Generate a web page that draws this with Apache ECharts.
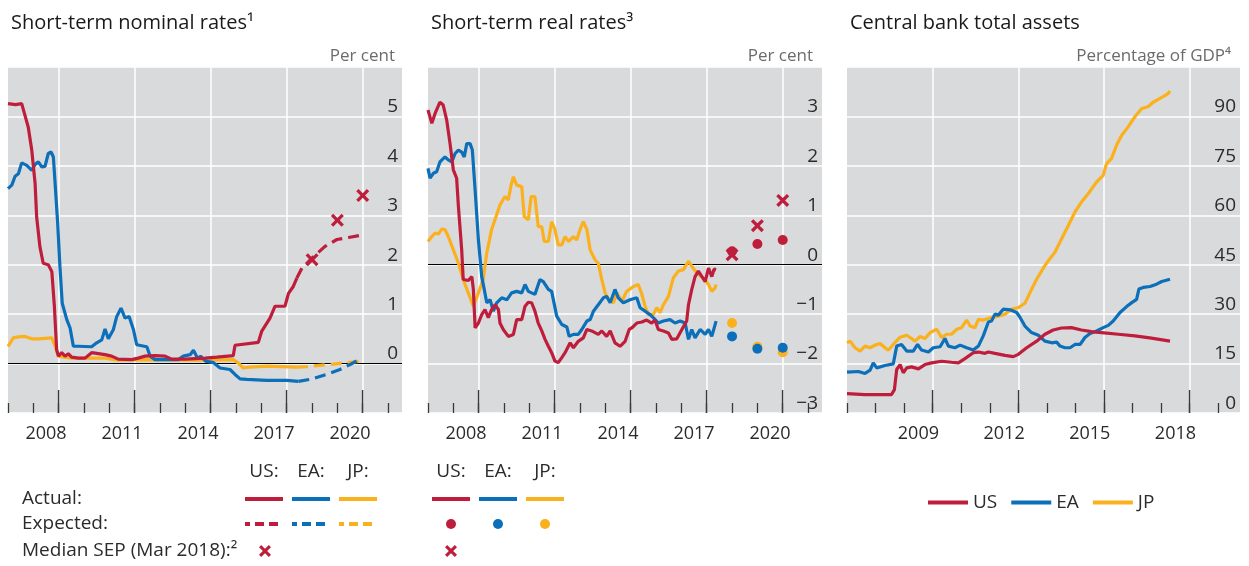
<!DOCTYPE html>
<html>
<head>
<meta charset="utf-8">
<script src="https://cdn.jsdelivr.net/npm/echarts@6/dist/echarts.min.js"></script>
<style>
  html, body { margin: 0; padding: 0; background: #fff; }
  #chart { width: 1249px; height: 566px; }
</style>
</head>
<body>
<div id="chart"></div>
<script>
var RED = '#be1e3c', BLUE = '#0b6fba', YELLOW = '#fbb01d';
var BG = '#d9dadc', TXT = '#2b2b2b';
var FONT = '"Open Sans", "Noto Sans", sans-serif';

// ---- Short-term nominal rates, per cent : [year, value]
var nomUS = [[2007.0,5.26],[2007.3,5.24],[2007.54,5.26],[2007.67,5.02],[2007.8,4.78],[2007.94,4.31],[2008.07,3.64],[2008.13,2.97],[2008.26,2.36],[2008.39,2.03],[2008.59,2.0],[2008.73,1.86],[2008.83,1.16],[2008.92,0.28],[2008.99,0.15],[2009.12,0.22],[2009.25,0.15],[2009.38,0.2],[2009.51,0.13],[2009.78,0.11],[2010.04,0.11],[2010.3,0.22],[2010.83,0.18],[2011.09,0.15],[2011.35,0.09],[2011.88,0.08],[2012.14,0.11],[2012.41,0.15],[2012.8,0.16],[2013.2,0.15],[2013.46,0.09],[2013.99,0.09],[2014.78,0.11],[2015.24,0.13],[2015.89,0.16],[2015.96,0.37],[2016.88,0.43],[2017.01,0.65],[2017.34,0.92],[2017.54,1.16],[2017.93,1.16],[2018.07,1.42],[2018.26,1.56],[2018.4,1.73]];
var nomUSExp = [[2018.4,1.73],[2018.6,1.93],[2018.99,2.13],[2019.51,2.37],[2019.98,2.51],[2020.44,2.55],[2020.96,2.6]];
var nomUSSep = [[2019,2.1],[2020,2.9],[2021,3.4]];
var nomEA = [[2007.0,3.54],[2007.15,3.61],[2007.28,3.79],[2007.41,3.84],[2007.54,4.06],[2007.74,4.01],[2007.94,3.91],[2008.07,4.03],[2008.2,4.08],[2008.33,3.98],[2008.46,3.99],[2008.59,4.25],[2008.7,4.28],[2008.79,4.18],[2008.86,3.64],[2008.96,2.84],[2009.05,1.96],[2009.14,1.22],[2009.32,0.89],[2009.45,0.72],[2009.58,0.35],[2009.78,0.35],[2010.3,0.34],[2010.5,0.42],[2010.7,0.48],[2010.83,0.7],[2010.96,0.5],[2011.16,0.69],[2011.29,0.95],[2011.46,1.12],[2011.62,0.92],[2011.78,0.95],[2011.95,0.69],[2012.08,0.38],[2012.48,0.34],[2012.61,0.15],[2012.8,0.08],[2013.72,0.08],[2013.92,0.15],[2014.19,0.18],[2014.32,0.27],[2014.49,0.1],[2014.6,0.15],[2014.8,0.05],[2015.1,0.02],[2015.37,-0.09],[2015.76,-0.12],[2015.96,-0.22],[2016.16,-0.31],[2016.42,-0.32],[2017.21,-0.34],[2018.0,-0.34],[2018.46,-0.36]];
var nomEAExp = [[2018.46,-0.36],[2018.92,-0.32],[2019.58,-0.22],[2020.1,-0.12],[2020.5,-0.02],[2020.96,0.11]];
var nomJP = [[2007.0,0.35],[2007.21,0.52],[2007.41,0.54],[2007.67,0.55],[2007.94,0.5],[2008.2,0.5],[2008.73,0.52],[2008.86,0.35],[2008.99,0.15],[2009.51,0.11],[2010.83,0.11],[2011.35,0.07],[2012.14,0.08],[2014.58,0.07],[2015.89,0.08],[2016.09,0.01],[2016.29,-0.09],[2016.55,-0.07],[2017.21,-0.05],[2018.4,-0.07]];
var nomJPExp = [[2018.4,-0.07],[2018.79,-0.06],[2019.84,-0.01],[2020.96,0.05]];

// ---- Short-term real rates, per cent
var realUS = [[2007.0,3.13],[2007.15,2.86],[2007.28,3.06],[2007.47,3.29],[2007.6,3.23],[2007.74,2.92],[2007.87,2.45],[2008.0,1.92],[2008.13,1.75],[2008.2,1.18],[2008.33,0.3],[2008.39,-0.3],[2008.59,-0.32],[2008.73,-0.24],[2008.79,-0.5],[2008.86,-1.28],[2008.99,-1.18],[2009.12,-1.01],[2009.25,-0.91],[2009.38,-1.07],[2009.51,-0.91],[2009.65,-0.81],[2009.78,-0.91],[2009.84,-1.18],[2009.97,-1.31],[2010.17,-1.45],[2010.37,-1.41],[2010.5,-1.11],[2010.7,-1.11],[2010.83,-0.84],[2010.96,-0.76],[2011.09,-0.77],[2011.22,-0.94],[2011.35,-1.18],[2011.49,-1.34],[2011.62,-1.51],[2011.75,-1.65],[2011.88,-1.78],[2012.01,-1.95],[2012.14,-1.98],[2012.28,-1.88],[2012.41,-1.78],[2012.61,-1.58],[2012.74,-1.68],[2012.93,-1.55],[2013.13,-1.48],[2013.27,-1.31],[2013.46,-1.34],[2013.72,-1.41],[2013.86,-1.34],[2014.05,-1.45],[2014.19,-1.34],[2014.38,-1.58],[2014.58,-1.65],[2014.78,-1.55],[2014.94,-1.31],[2015.04,-1.28],[2015.24,-1.18],[2015.44,-1.16],[2015.63,-1.12],[2015.83,-1.18],[2015.96,-1.12],[2016.09,-1.31],[2016.29,-1.34],[2016.49,-1.38],[2016.62,-1.51],[2016.82,-1.5],[2017.02,-1.31],[2017.21,-1.14],[2017.28,-0.81],[2017.41,-0.5],[2017.54,-0.24],[2017.67,-0.13],[2017.81,-0.24],[2017.94,-0.34],[2018.07,-0.07],[2018.2,-0.24],[2018.29,-0.09],[2018.37,-0.1]];
var realEA = [[2007.0,1.95],[2007.08,1.75],[2007.21,1.85],[2007.34,1.88],[2007.47,2.08],[2007.67,2.18],[2007.8,2.12],[2007.94,2.08],[2008.07,2.25],[2008.2,2.32],[2008.33,2.28],[2008.43,2.18],[2008.53,2.45],[2008.66,2.45],[2008.75,2.32],[2008.86,1.51],[2008.99,0.5],[2009.12,-0.24],[2009.22,-0.5],[2009.32,-0.77],[2009.45,-0.71],[2009.58,-0.94],[2009.71,-0.77],[2009.91,-0.67],[2010.11,-0.71],[2010.3,-0.57],[2010.5,-0.54],[2010.7,-0.57],[2010.83,-0.4],[2010.96,-0.54],[2011.22,-0.6],[2011.42,-0.3],[2011.55,-0.34],[2011.75,-0.5],[2011.88,-0.54],[2012.08,-1.04],[2012.28,-1.21],[2012.48,-1.26],[2012.57,-1.45],[2012.74,-1.41],[2012.93,-1.41],[2013.07,-1.31],[2013.27,-1.14],[2013.4,-1.11],[2013.53,-0.94],[2013.72,-0.81],[2013.92,-0.67],[2014.05,-0.64],[2014.19,-0.77],[2014.38,-0.5],[2014.51,-0.67],[2014.71,-0.77],[2014.97,-0.71],[2015.24,-0.67],[2015.37,-0.87],[2015.57,-0.94],[2015.76,-1.01],[2015.89,-1.07],[2016.09,-1.18],[2016.29,-1.14],[2016.55,-1.11],[2016.75,-1.18],[2016.95,-1.14],[2017.15,-1.18],[2017.28,-1.51],[2017.41,-1.31],[2017.54,-1.48],[2017.74,-1.31],[2017.94,-1.41],[2018.07,-1.31],[2018.2,-1.45],[2018.37,-1.14]];
var realJP = [[2007.0,0.47],[2007.15,0.57],[2007.28,0.64],[2007.41,0.62],[2007.54,0.72],[2007.67,0.71],[2007.8,0.57],[2008.0,0.3],[2008.2,0.03],[2008.39,-0.3],[2008.59,-0.57],[2008.79,-0.84],[2008.99,-0.57],[2009.18,-0.3],[2009.32,0.24],[2009.51,0.71],[2009.71,1.01],[2009.84,1.21],[2010.04,1.38],[2010.17,1.31],[2010.28,1.61],[2010.37,1.78],[2010.5,1.61],[2010.7,1.58],[2010.8,0.97],[2010.96,0.91],[2011.07,1.38],[2011.22,1.38],[2011.35,0.77],[2011.49,0.77],[2011.59,0.47],[2011.75,0.47],[2011.88,0.87],[2012.01,0.71],[2012.14,0.4],[2012.28,0.4],[2012.41,0.57],[2012.54,0.47],[2012.74,0.57],[2012.87,0.5],[2013.0,0.71],[2013.13,0.87],[2013.27,0.71],[2013.4,0.3],[2013.59,0.1],[2013.72,0.03],[2013.86,-0.3],[2013.99,-0.57],[2014.12,-0.71],[2014.32,-0.77],[2014.45,-0.57],[2014.65,-0.74],[2014.84,-0.54],[2014.91,-0.5],[2015.11,-0.44],[2015.3,-0.4],[2015.44,-0.6],[2015.57,-0.84],[2015.7,-1.01],[2015.89,-1.01],[2016.03,-0.87],[2016.16,-0.97],[2016.29,-0.81],[2016.49,-0.64],[2016.68,-0.27],[2016.88,-0.13],[2017.08,-0.1],[2017.28,0.07],[2017.41,-0.03],[2017.61,-0.17],[2017.87,-0.27],[2018.07,-0.4],[2018.2,-0.54],[2018.33,-0.47],[2018.37,-0.4]];
var realUSExp = [[2019,0.27],[2020,0.42],[2021,0.5]];
var realEAExp = [[2019,-1.45],[2020,-1.7],[2021,-1.68]];
var realJPExp = [[2019,-1.18],[2020,-1.66],[2021,-1.77]];
var realUSSep = [[2019,0.2],[2020,0.79],[2021,1.3]];

// ---- Central bank total assets, percentage of GDP
var assetsUS = [[2007.0,5.9],[2007.63,5.6],[2008.56,5.6],[2008.66,7.1],[2008.74,13.2],[2008.86,14.7],[2008.97,12.2],[2009.09,13.7],[2009.26,14.0],[2009.5,13.4],[2009.73,14.7],[2009.96,15.2],[2010.31,15.7],[2010.66,15.4],[2010.9,15.2],[2011.13,16.5],[2011.42,18.3],[2011.6,18.5],[2011.83,18.1],[2011.95,18.5],[2012.18,18.1],[2012.53,17.5],[2012.82,17.1],[2013.0,17.8],[2013.29,19.8],[2013.64,21.8],[2013.93,23.9],[2014.22,25.2],[2014.51,25.8],[2014.86,25.9],[2015.21,25.2],[2015.56,24.7],[2015.91,24.4],[2016.5,23.9],[2017.08,23.4],[2017.66,22.7],[2018.31,21.8]];
var assetsEA = [[2007.0,12.4],[2007.4,12.6],[2007.63,12.0],[2007.81,13.0],[2007.92,15.2],[2008.04,13.7],[2008.33,14.4],[2008.62,14.9],[2008.74,20.3],[2008.91,20.8],[2009.09,18.8],[2009.32,18.8],[2009.47,20.8],[2009.61,19.1],[2009.85,18.5],[2010.02,19.8],[2010.26,20.1],[2010.43,22.6],[2010.55,20.3],[2010.78,19.8],[2010.96,20.6],[2011.19,19.8],[2011.42,19.1],[2011.6,20.3],[2011.77,23.4],[2011.95,27.6],[2012.06,27.9],[2012.18,30.0],[2012.3,29.7],[2012.47,31.5],[2012.71,31.3],[2012.94,30.5],[2013.06,29.0],[2013.23,26.4],[2013.46,24.4],[2013.7,23.6],[2013.93,21.8],[2014.17,21.3],[2014.34,21.5],[2014.46,20.3],[2014.63,19.8],[2014.81,19.8],[2014.98,20.8],[2015.16,20.8],[2015.33,22.9],[2015.51,24.1],[2015.74,24.9],[2015.97,25.9],[2016.15,26.6],[2016.32,27.9],[2016.56,30.5],[2016.79,32.3],[2016.97,33.5],[2017.14,34.5],[2017.22,37.6],[2017.37,38.1],[2017.61,38.4],[2017.84,39.1],[2018.02,39.9],[2018.31,40.6]];
var assetsJP = [[2007.0,21.3],[2007.11,21.8],[2007.28,19.8],[2007.46,18.8],[2007.63,20.3],[2007.81,19.8],[2007.98,20.6],[2008.16,21.1],[2008.33,19.8],[2008.45,19.1],[2008.62,20.8],[2008.86,23.0],[2009.09,23.6],[2009.26,22.6],[2009.38,21.8],[2009.56,23.2],[2009.73,22.6],[2009.91,24.4],[2010.14,25.4],[2010.31,22.9],[2010.49,23.9],[2010.66,23.9],[2010.84,25.4],[2011.01,25.9],[2011.19,28.2],[2011.31,26.4],[2011.48,25.9],[2011.6,28.4],[2011.77,28.2],[2011.95,28.7],[2012.12,29.0],[2012.36,29.5],[2012.53,30.0],[2012.76,31.5],[2013.0,32.0],[2013.23,33.3],[2013.41,36.6],[2013.64,40.6],[2013.91,44.5],[2014.05,46.2],[2014.28,48.8],[2014.51,52.8],[2014.75,56.9],[2014.98,61.0],[2015.21,64.0],[2015.45,66.6],[2015.74,70.1],[2015.97,72.1],[2016.09,75.7],[2016.26,77.2],[2016.44,81.3],[2016.62,84.3],[2016.85,86.9],[2017.08,89.9],[2017.31,92.3],[2017.55,93.0],[2017.72,94.3],[2017.96,95.5],[2018.13,96.3],[2018.25,97.0],[2018.31,97.7]];

// ---- axis ticks and labels
var yearsRates = [2007,2008,2009,2010,2011,2012,2013,2014,2015,2016,2017,2018,2019,2020,2021,2022];
var majorsRates = [2009,2012,2015,2018,2021];
var labelsRates = [2008.5,2011.5,2014.5,2017.5,2020.5];
var yearsAssets = [2007,2008,2009,2010,2011,2012,2013,2014,2015,2016,2017,2018,2019,2020];
var majorsAssets = [2010,2013,2016,2019];
var labelsAssets = [2009.5,2012.5,2015.5,2018.5];

var XSHAPE = 'path://M1.8,0L5,3.2L8.2,0L10,1.8L6.8,5L10,8.2L8.2,10L5,6.8L1.8,10L0,8.2L3.2,5L0,1.8Z';
var XPOINTS = [[1.8,0],[5,3.2],[8.2,0],[10,1.8],[6.8,5],[10,8.2],[8.2,10],[5,6.8],[1.8,10],[0,8.2],[3.2,5],[0,1.8]];

var TOP = 67, BOTTOM = 413, STRIP = 23;
var panels = [
  {left: 8, width: 394, xMax: 2022.55, years: yearsRates, majors: majorsRates, labels: labelsRates, yMin: -1, yMax: 6, yStep: 1, hide: [-1, 6]},
  {left: 428, width: 394, xMax: 2022.55, years: yearsRates, majors: majorsRates, labels: labelsRates, yMin: -3, yMax: 4, yStep: 1, hide: [4]},
  {left: 847, width: 393, xMax: 2020.76, years: yearsAssets, majors: majorsAssets, labels: labelsAssets, yMin: 0, yMax: 105, yStep: 15, hide: [105]}
];

var grids = [], xAxes = [], yAxes = [], series = [], graphics = [];

panels.forEach(function(p, i){
  grids.push({left: p.left, width: p.width, top: TOP, height: BOTTOM - TOP, show: true, backgroundColor: BG, borderWidth: 0});
  // white vertical grid lines every 3 years
  xAxes.push({gridIndex: i, type: 'value', min: 2007, max: p.xMax, position: 'bottom', z: 0,
    axisLine: {show: false}, axisLabel: {show: false},
    axisTick: {show: false, customValues: p.majors},
    splitLine: {show: true, lineStyle: {color: '#fff', width: 1.5}}});
  // long ticks
  xAxes.push({gridIndex: i, type: 'value', min: 2007, max: p.xMax, position: 'bottom', z: 3,
    axisLine: {show: false, onZero: false}, axisLabel: {show: false}, splitLine: {show: false},
    axisTick: {show: true, inside: true, length: STRIP, customValues: p.majors, lineStyle: {color: '#3a3a3a', width: 1.3}}});
  // short yearly ticks + labels centred in the year
  xAxes.push({gridIndex: i, type: 'value', min: 2007, max: p.xMax, position: 'bottom', z: 3,
    axisLine: {show: false, onZero: false}, splitLine: {show: false},
    axisTick: {show: true, inside: true, length: 10, customValues: p.years, lineStyle: {color: '#3a3a3a', width: 1.3}},
    axisLabel: {show: true, customValues: p.labels, margin: 12, fontSize: 18, color: TXT, fontFamily: FONT,
      formatter: function(v){ return String(Math.floor(v)); }}});
  yAxes.push({gridIndex: i, type: 'value', min: p.yMin, max: p.yMax, interval: p.yStep, position: 'right', z: 3,
    axisLine: {show: false}, axisTick: {show: false},
    splitLine: {show: true, lineStyle: {color: '#fff', width: 1.5}},
    axisLabel: {inside: true, margin: 4, verticalAlign: 'bottom', fontSize: 19, color: TXT, fontFamily: FONT,
      formatter: function(v){ return p.hide.indexOf(v) >= 0 ? '' : String(v).replace('-', '\u2212'); }}});
  // grey band at the bottom that hides the grid lines behind the ticks
  graphics.push({type: 'rect', z: 1, silent: true,
    shape: {x: p.left, y: BOTTOM - STRIP, width: p.width, height: STRIP}, style: {fill: BG}});
});

function line(name, panel, data, color, dashed) {
  return {name: name, type: 'line', xAxisIndex: panel * 3, yAxisIndex: panel, data: data, z: 5,
    color: color, showSymbol: false, symbol: 'none', silent: true,
    lineStyle: {width: 3.2, color: color, type: dashed ? [11, 6] : 'solid'}};
}
function marks(name, panel, data, color, symbol, size) {
  return {name: name, type: 'scatter', xAxisIndex: panel * 3, yAxisIndex: panel, data: data, z: 6,
    symbol: symbol, symbolSize: size, itemStyle: {color: color, opacity: 1}, silent: true};
}
var zeroLine = {silent: true, symbol: ['none', 'none'], label: {show: false},
  lineStyle: {color: '#000', width: 1, type: 'solid'}, data: [{yAxis: 0}]};

var s;
s = line('JP nominal', 0, nomJP, YELLOW); s.markLine = zeroLine; series.push(s);
series.push(line('JP nominal exp', 0, nomJPExp, YELLOW, true));
series.push(line('EA nominal', 0, nomEA, BLUE));
series.push(line('EA nominal exp', 0, nomEAExp, BLUE, true));
series.push(line('US nominal', 0, nomUS, RED));
series.push(line('US nominal exp', 0, nomUSExp, RED, true));
series.push(marks('US SEP nominal', 0, nomUSSep, RED, XSHAPE, 13));

s = line('JP real', 1, realJP, YELLOW); s.markLine = zeroLine; series.push(s);
series.push(line('EA real', 1, realEA, BLUE));
series.push(line('US real', 1, realUS, RED));
series.push(marks('JP real exp', 1, realJPExp, YELLOW, 'circle', 10));
series.push(marks('EA real exp', 1, realEAExp, BLUE, 'circle', 10));
series.push(marks('US real exp', 1, realUSExp, RED, 'circle', 10));
series.push(marks('US SEP real', 1, realUSSep, RED, XSHAPE, 13));

series.push(line('JP', 2, assetsJP, YELLOW));
series.push(line('EA', 2, assetsEA, BLUE));
series.push(line('US', 2, assetsUS, RED));

// ---- key below the two rate panels
var ROW = {head: 472, actual: 499, expected: 524, sep: 551};
var keyCols = [[245, 292, 339], [432, 479, 526]];
var keyColors = [RED, BLUE, YELLOW];
function txt(t, x, y, align) {
  return {type: 'text', x: x, y: y, z: 10, silent: true,
    style: {text: t, fill: TXT, font: '19px ' + FONT, align: align || 'left', verticalAlign: 'middle'}};
}
graphics.push(txt('Actual:', 22, ROW.actual));
graphics.push(txt('Expected:', 22, ROW.expected));
graphics.push(txt('Median SEP (Mar 2018):\u00b2', 22, ROW.sep));
keyCols.forEach(function(cols, k){
  ['US:', 'EA:', 'JP:'].forEach(function(lbl, j){
    var x = cols[j];
    graphics.push(txt(lbl, x + 19, ROW.head, 'center'));
    graphics.push({type: 'line', z: 10, silent: true, shape: {x1: x, y1: ROW.actual, x2: x + 38, y2: ROW.actual},
      style: {stroke: keyColors[j], lineWidth: 4}});
    if (k === 0) {
      graphics.push({type: 'line', z: 10, silent: true, shape: {x1: x, y1: ROW.expected, x2: x + 38, y2: ROW.expected},
        style: {stroke: keyColors[j], lineWidth: 4, lineDash: [9, 5], lineDashOffset: 4}});
    } else {
      graphics.push({type: 'circle', z: 10, silent: true, shape: {cx: x + 19, cy: ROW.expected, r: 5},
        style: {fill: keyColors[j]}});
    }
  });
});
[[259, ROW.sep], [445, ROW.sep]].forEach(function(c){
  graphics.push({type: 'polygon', z: 10, silent: true,
    shape: {points: XPOINTS.map(function(pt){ return [c[0] + pt[0] * 1.2, c[1] - 6 + pt[1] * 1.2]; })},
    style: {fill: RED}});
});

var titleStyle = {fontSize: 20, fontWeight: 'normal', color: '#1a1a1a', fontFamily: FONT};
var unitStyle = {fontSize: 17, fontWeight: 'normal', color: '#6b6b6b', fontFamily: FONT};

var chart = echarts.init(document.getElementById('chart'));
chart.setOption({
  animation: false,
  backgroundColor: '#fff',
  textStyle: {fontFamily: FONT},
  title: [
    {text: 'Short-term nominal rates\u00b9', left: 6, top: 8, textStyle: titleStyle},
    {text: 'Short-term real rates\u00b3', left: 426, top: 8, textStyle: titleStyle},
    {text: 'Central bank total assets', left: 845, top: 8, textStyle: titleStyle},
    {text: 'Per cent', right: 849, top: 43, textStyle: unitStyle},
    {text: 'Per cent', right: 431, top: 43, textStyle: unitStyle},
    {text: 'Percentage of GDP\u2074', right: 13, top: 43, textStyle: unitStyle}
  ],
  legend: {data: ['US', 'EA', 'JP'], left: 923, top: 488, icon: 'rect', itemWidth: 40, itemHeight: 4,
    itemGap: 14, selectedMode: false, textStyle: {fontSize: 19, color: TXT, fontFamily: FONT}},
  grid: grids,
  xAxis: xAxes,
  yAxis: yAxes,
  graphic: graphics,
  series: series
});
</script>
</body>
</html>
